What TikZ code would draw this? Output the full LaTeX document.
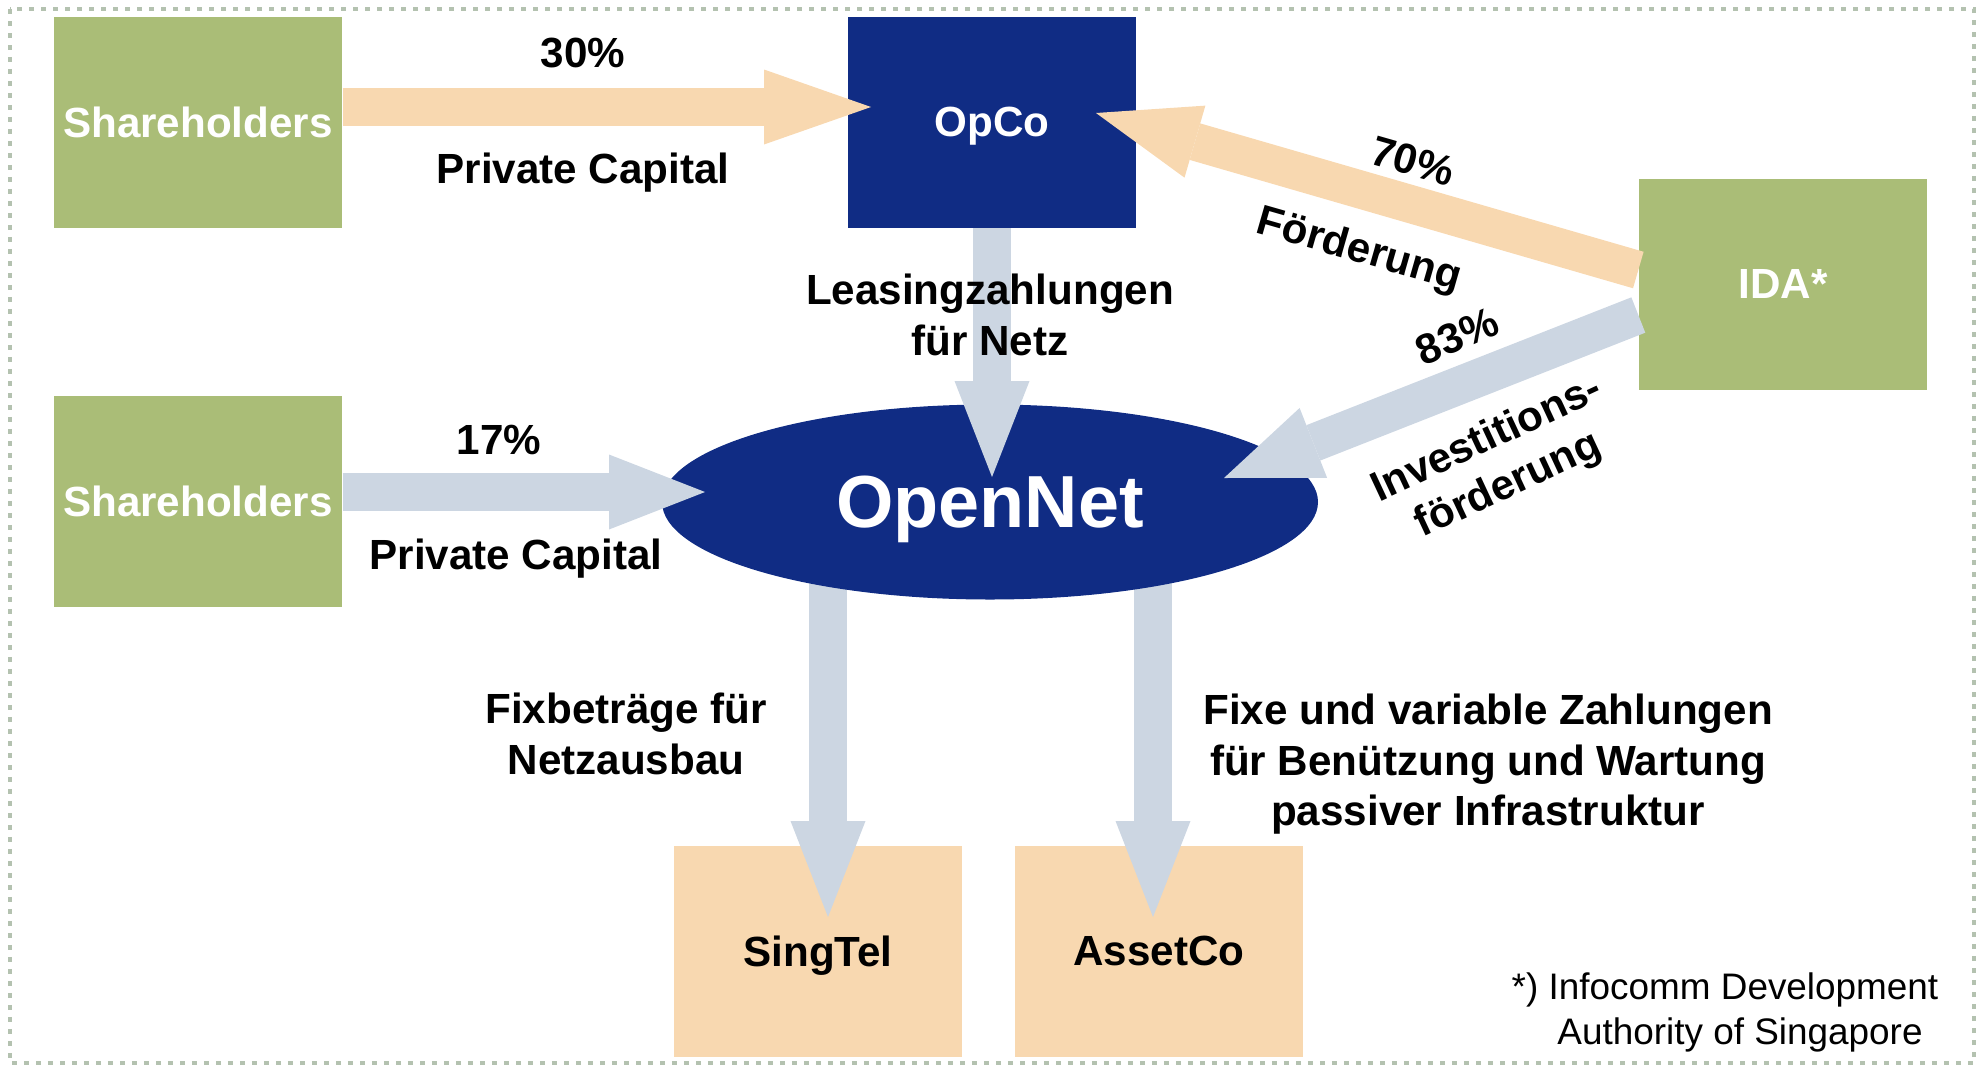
\documentclass[tikz,border=0pt]{standalone}
\usepackage{fontspec}
\setmainfont{Liberation Sans}
\usetikzlibrary{shapes.geometric,arrows.meta}
\pgfdeclarelayer{background}
\pgfsetlayers{background,main}
\definecolor{boxgreen}{HTML}{AABD77}
\definecolor{navy}{HTML}{102C84}
\definecolor{peach}{HTML}{F8D8B0}
\definecolor{steel}{HTML}{CCD6E2}
\definecolor{framegray}{HTML}{B4C2B0}

\begin{document}
\begin{tikzpicture}[x=0.1mm, y=-0.1mm,
  box/.style={minimum width=28.8mm, minimum height=21.1mm, inner sep=0pt, text depth=0pt,
    font=\fontsize{12}{14.4}\selectfont\bfseries},
  greenbox/.style={box, fill=boxgreen, text=white},
  bluebox/.style={box, fill=navy, text=white},
  peachbox/.style={box, fill=peach, text=black},
  lbl/.style={font=\fontsize{12}{14.4}\selectfont\bfseries, align=center, inner sep=0pt, text depth=0pt},
  flow/.style={line width=3.8mm, -{Triangle[length=#1, width=7.5mm, line width=0pt]}},
  flow/.default=9.6mm]

\useasboundingbox (0,0) rectangle (1982,1067);
\draw [framegray, line width=0.45mm, dash pattern=on 0.5mm off 0.7mm] (10,9) rectangle (1974,1063);

\node [greenbox] (sh1) at (198,122) {Shareholders};
\node [greenbox] (sh2) at (198,501) {Shareholders};
\node [bluebox] (opco) at (992,122) {OpCo};
\node [greenbox] (ida) at (1783,284) {IDA*};
\node [ellipse, fill=navy, text=white, minimum width=65.6mm, minimum height=19.5mm,
  inner sep=0pt, text depth=0pt, font=\fontsize{21}{25}\selectfont\bfseries] (opennet) at (990,502) {OpenNet};

\coordinate (opco-in) at (871,107);
\coordinate (opco-in2) at (1096,113);
\coordinate (on-in1) at (705,492);
\coordinate (on-in2) at (992,477);
\coordinate (on-in3) at (1224,478);
\coordinate (sg-in) at (828,917);
\coordinate (ac-in) at (1153,917);

\draw [flow=10.7mm, peach] (sh1.east |- opco-in) -- (opco-in);
\draw [flow, steel] (sh2.east |- on-in1) -- (on-in1);
\draw [flow, steel] (opco.south) -- (on-in2);
\draw [flow=10.3mm, peach] ([yshift=1.4mm]ida.west) -- (opco-in2);
\draw [flow, steel] ([yshift=-3.1mm]ida.west) -- (on-in3);

\begin{pgfonlayer}{background}
\node [peachbox] (singtel) at (818,951) {SingTel};
\node [peachbox] (assetco) at (1159,951) {AssetCo};
\draw [flow, steel] (opennet.center -| sg-in) -- (sg-in);
\draw [flow, steel] (opennet.center -| ac-in) -- (ac-in);
\end{pgfonlayer}

\node [lbl] (p30) at (583,53) {30\%};
\node [lbl] (pc1) at (583,168) {Private Capital};
\node [lbl] (p17) at (499,440) {17\%};
\node [lbl] (pc2) at (516,554) {Private Capital};
\node [lbl] (lease) at (990,315) {Leasingzahlungen\\für Netz};
\node [lbl, rotate=-16] (p70) at (1413,161) {70\%};
\node [lbl, rotate=-16] (foerd) at (1360,247) {Förderung};
\node [lbl, rotate=23] (p83) at (1457,336) {83\%};
\node [lbl, rotate=25] (invest) at (1496,459) {Investitions-\\förderung};
\node [lbl] (fix) at (626,734) {Fixbeträge für\\Netzausbau};
\node [lbl] (fixvar) at (1488,760) {Fixe und variable Zahlungen\\für Benützung und Wartung\\passiver Infrastruktur};
\node [align=center, inner sep=0pt, text depth=0pt, font=\fontsize{10.5}{12.8}\selectfont] (note) at (1725,1009)
  {*) Infocomm Development\\\hspace*{3mm}Authority of Singapore};
\end{tikzpicture}
\end{document}
